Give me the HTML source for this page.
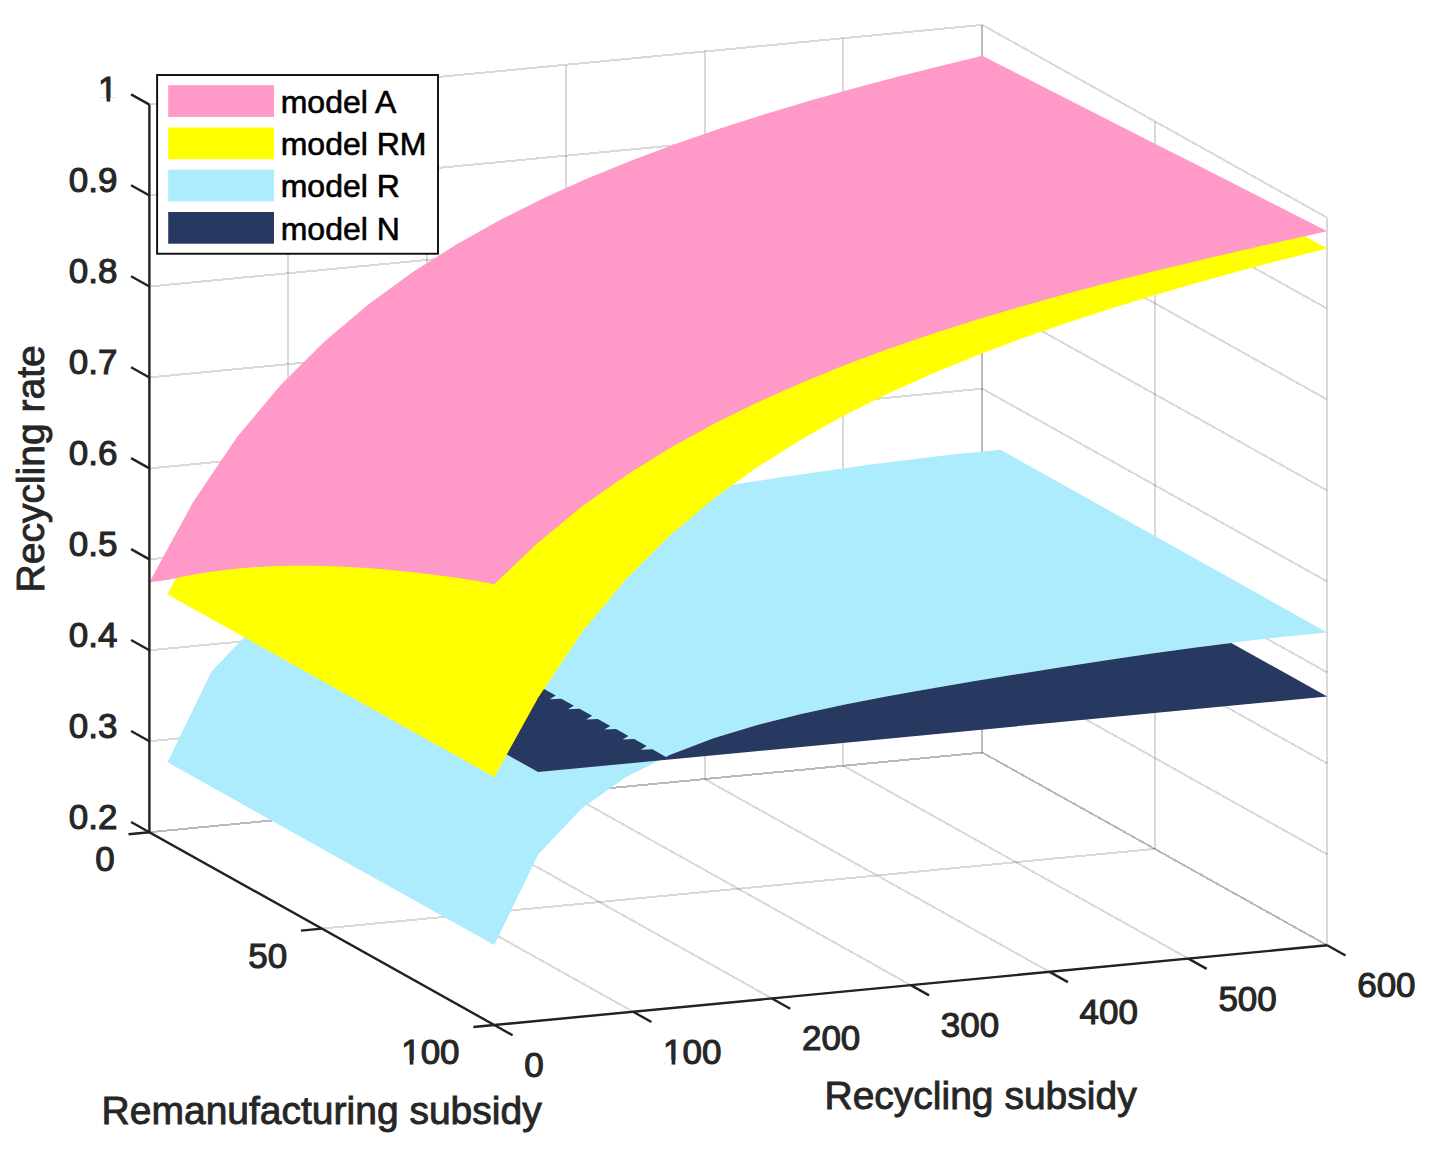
<!DOCTYPE html>
<html><head><meta charset="utf-8"><style>
html,body{margin:0;padding:0;background:#fff;}
svg{display:block;}
text{font-family:"Liberation Sans",sans-serif;}
</style></head><body>
<svg width="1437" height="1152" viewBox="0 0 1437 1152">
<rect width="1437" height="1152" fill="#fff"/>
<g stroke="#262626" stroke-opacity="0.175" stroke-width="2" shape-rendering="crispEdges" fill="none">
<line x1="149.40" y1="832.20" x2="149.40" y2="104.60"/>
<line x1="149.40" y1="832.20" x2="494.30" y2="1025.00"/>
<line x1="288.22" y1="818.92" x2="288.22" y2="91.32"/>
<line x1="288.22" y1="818.92" x2="633.12" y2="1011.72"/>
<line x1="427.03" y1="805.63" x2="427.03" y2="78.03"/>
<line x1="427.03" y1="805.63" x2="771.93" y2="998.43"/>
<line x1="565.85" y1="792.35" x2="565.85" y2="64.75"/>
<line x1="565.85" y1="792.35" x2="910.75" y2="985.15"/>
<line x1="704.67" y1="779.07" x2="704.67" y2="51.47"/>
<line x1="704.67" y1="779.07" x2="1049.57" y2="971.87"/>
<line x1="843.48" y1="765.78" x2="843.48" y2="38.18"/>
<line x1="843.48" y1="765.78" x2="1188.38" y2="958.58"/>
<line x1="982.30" y1="752.50" x2="982.30" y2="24.90"/>
<line x1="982.30" y1="752.50" x2="1327.20" y2="945.30"/>
<line x1="149.40" y1="832.20" x2="982.30" y2="752.50"/>
<line x1="982.30" y1="752.50" x2="1327.20" y2="945.30"/>
<line x1="149.40" y1="741.25" x2="982.30" y2="661.55"/>
<line x1="982.30" y1="661.55" x2="1327.20" y2="854.35"/>
<line x1="149.40" y1="650.30" x2="982.30" y2="570.60"/>
<line x1="982.30" y1="570.60" x2="1327.20" y2="763.40"/>
<line x1="149.40" y1="559.35" x2="982.30" y2="479.65"/>
<line x1="982.30" y1="479.65" x2="1327.20" y2="672.45"/>
<line x1="149.40" y1="468.40" x2="982.30" y2="388.70"/>
<line x1="982.30" y1="388.70" x2="1327.20" y2="581.50"/>
<line x1="149.40" y1="377.45" x2="982.30" y2="297.75"/>
<line x1="982.30" y1="297.75" x2="1327.20" y2="490.55"/>
<line x1="149.40" y1="286.50" x2="982.30" y2="206.80"/>
<line x1="982.30" y1="206.80" x2="1327.20" y2="399.60"/>
<line x1="149.40" y1="195.55" x2="982.30" y2="115.85"/>
<line x1="982.30" y1="115.85" x2="1327.20" y2="308.65"/>
<line x1="149.40" y1="104.60" x2="982.30" y2="24.90"/>
<line x1="982.30" y1="24.90" x2="1327.20" y2="217.70"/>
<line x1="982.30" y1="752.50" x2="982.30" y2="24.90"/>
<line x1="149.40" y1="832.20" x2="982.30" y2="752.50"/>
<line x1="1154.75" y1="848.90" x2="1154.75" y2="121.30"/>
<line x1="321.85" y1="928.60" x2="1154.75" y2="848.90"/>
<line x1="1327.20" y1="945.30" x2="1327.20" y2="217.70"/>
<line x1="494.30" y1="1025.00" x2="1327.20" y2="945.30"/>
</g>
<polygon fill="#ACECFD" points="167.55,762.32 211.39,671.82 255.23,625.58 299.06,594.65 342.90,572.42 386.74,555.62 430.57,542.34 474.41,531.36 518.25,521.90 562.08,513.42 605.92,505.57 649.76,498.13 693.59,490.98 737.43,484.05 781.27,477.35 825.11,470.92 868.94,464.82 912.78,459.18 956.62,454.10 1000.45,449.72 1327.20,632.38 1283.36,636.75 1239.53,641.83 1195.69,647.48 1151.85,653.57 1108.02,660.00 1064.18,666.70 1020.34,673.63 976.51,680.78 932.67,688.22 888.83,696.07 844.99,704.55 801.16,714.02 757.32,724.99 713.48,738.27 669.65,755.07 625.81,777.30 581.97,808.23 538.14,854.47 494.30,944.97"/>
<polygon fill="#283961" points="538.14,772.06 1327.20,696.55 1231.22,642.90 1195.69,647.48 1151.85,653.57 1108.02,660.00 1064.18,666.70 1020.34,673.63 976.51,680.78 932.67,688.22 888.83,696.07 844.99,704.55 801.16,714.02 757.32,724.99 713.48,738.27 669.65,755.07 666.00,756.92 652.40,749.20 640.70,749.70 646.70,746.10 634.20,739.10 622.50,739.60 628.50,736.00 616.00,729.00 604.30,729.50 610.30,725.90 597.80,718.90 586.10,719.40 592.10,715.80 579.60,708.80 567.90,709.30 573.90,705.70 561.40,698.70 549.70,699.20 555.70,695.60 543.20,688.60 530.00,681.00 490.00,745.00 503.65,752.78"/>
<polygon fill="#FFFF00" points="167.55,594.42 494.30,777.07 538.14,697.71 581.97,632.03 625.81,579.32 669.65,535.70 713.48,498.82 757.32,467.11 801.16,439.46 844.99,415.04 888.83,393.22 932.67,373.52 976.51,355.56 1020.34,339.03 1064.18,323.70 1108.02,309.38 1151.85,295.91 1195.69,283.18 1239.53,271.09 1283.36,259.57 1327.20,248.58 1306.51,237.01 1292.71,229.30 1283.36,236.96 1239.53,246.91 1195.69,257.15 1151.85,267.76 1108.02,278.82 1064.18,290.43 1020.34,302.70 976.51,315.75 932.67,329.72 888.83,344.77 844.99,361.09 801.16,378.89 757.32,398.45 713.48,420.08 669.65,444.20 625.81,471.38 581.97,502.41 538.14,538.54 494.30,580.26 494.30,579.57 476.15,576.65 457.99,573.94 439.84,571.45 421.69,569.21 403.54,567.22 385.38,565.50 367.23,564.07 349.08,562.96 330.93,562.18 312.77,561.75 294.62,561.72 276.47,562.11 258.32,562.95 240.16,564.31 222.01,566.23 203.86,568.77 185.71,572.02 175.80,576.00 175.80,578.20"/>
<polygon fill="#FF99C8" points="149.40,582.34 193.24,501.85 237.07,437.00 280.91,384.68 324.75,341.16 368.58,304.21 412.42,272.35 456.26,244.53 500.09,219.96 543.93,198.04 587.77,178.31 631.61,160.39 675.44,143.98 719.28,128.84 763.12,114.77 806.95,101.62 850.79,89.24 894.63,77.54 938.46,66.42 982.30,55.83 1000.45,65.06 1018.61,74.29 1036.76,83.52 1054.91,92.75 1073.06,101.98 1091.22,111.22 1109.37,120.45 1127.52,129.68 1145.67,138.91 1163.83,148.14 1181.98,157.37 1200.13,166.60 1218.28,175.83 1236.44,185.07 1254.59,194.30 1272.74,203.53 1290.89,212.76 1309.05,221.99 1327.20,231.22 1283.36,240.96 1239.53,250.91 1195.69,261.15 1151.85,271.76 1108.02,282.82 1064.18,294.43 1020.34,306.70 976.51,319.75 932.67,333.72 888.83,348.77 844.99,365.09 801.16,382.89 757.32,402.45 713.48,424.08 669.65,448.20 625.81,475.38 581.97,506.41 538.14,542.54 494.30,584.26 476.15,580.65 457.99,577.94 439.84,575.45 421.69,573.21 403.54,571.22 385.38,569.50 367.23,568.07 349.08,566.96 330.93,566.18 312.77,565.75 294.62,565.72 276.47,566.11 258.32,566.95 240.16,568.31 222.01,570.23 203.86,572.77 185.71,576.02 167.55,580.03"/>
<g stroke="#222" stroke-width="2.4" fill="none" stroke-linecap="butt">
<polyline points="149.40,104.60 149.40,832.20 494.30,1025.00 1327.20,945.30" stroke-linejoin="miter"/>
<line x1="149.40" y1="832.20" x2="131.07" y2="821.95"/>
<line x1="149.40" y1="741.25" x2="131.07" y2="731.00"/>
<line x1="149.40" y1="650.30" x2="131.07" y2="640.05"/>
<line x1="149.40" y1="559.35" x2="131.07" y2="549.10"/>
<line x1="149.40" y1="468.40" x2="131.07" y2="458.15"/>
<line x1="149.40" y1="377.45" x2="131.07" y2="367.20"/>
<line x1="149.40" y1="286.50" x2="131.07" y2="276.25"/>
<line x1="149.40" y1="195.55" x2="131.07" y2="185.30"/>
<line x1="149.40" y1="104.60" x2="131.07" y2="94.35"/>
<line x1="149.40" y1="832.20" x2="128.50" y2="834.20"/>
<line x1="321.85" y1="928.60" x2="300.95" y2="930.60"/>
<line x1="494.30" y1="1025.00" x2="473.40" y2="1027.00"/>
<line x1="494.30" y1="1025.00" x2="512.63" y2="1035.25"/>
<line x1="633.12" y1="1011.72" x2="651.45" y2="1021.96"/>
<line x1="771.93" y1="998.43" x2="790.26" y2="1008.68"/>
<line x1="910.75" y1="985.15" x2="929.08" y2="995.40"/>
<line x1="1049.57" y1="971.87" x2="1067.90" y2="982.11"/>
<line x1="1188.38" y1="958.58" x2="1206.71" y2="968.83"/>
<line x1="1327.20" y1="945.30" x2="1345.53" y2="955.55"/>
</g>
<g font-size="35" fill="#262626" stroke="#262626" stroke-width="1.1">
<text x="117.5" y="829.00" text-anchor="end">0.2</text>
<text x="117.5" y="738.05" text-anchor="end">0.3</text>
<text x="117.5" y="647.10" text-anchor="end">0.4</text>
<text x="117.5" y="556.15" text-anchor="end">0.5</text>
<text x="117.5" y="465.20" text-anchor="end">0.6</text>
<text x="117.5" y="374.25" text-anchor="end">0.7</text>
<text x="117.5" y="283.30" text-anchor="end">0.8</text>
<text x="117.5" y="192.35" text-anchor="end">0.9</text>
<text x="117.5" y="101.40" text-anchor="end">1</text>
<text x="114.70" y="871.20" text-anchor="end">0</text>
<text x="287.15" y="967.60" text-anchor="end">50</text>
<text x="459.60" y="1064.00" text-anchor="end">100</text>
<text x="524.30" y="1077.00">0</text>
<text x="663.12" y="1063.72">100</text>
<text x="801.93" y="1050.43">200</text>
<text x="940.75" y="1037.15">300</text>
<text x="1079.57" y="1023.87">400</text>
<text x="1218.38" y="1010.58">500</text>
<text x="1357.20" y="997.30">600</text>
</g>
<g font-size="39" fill="#262626" stroke="#262626" stroke-width="0.9">
<text x="824.5" y="1108.6">Recycling subsidy</text>
<text x="101.6" y="1124.2">Remanufacturing subsidy</text>
<text transform="translate(44.0,592.4) rotate(-90)">Recycling rate</text>
</g>
<rect x="157.1" y="75.0" width="280.9" height="178.75" fill="#fff" stroke="#111" stroke-width="1.95"/>
<rect x="168.2" y="85.20" width="105.8" height="31.7" fill="#FF99C8"/>
<text x="280.7" y="112.85" font-size="32" fill="#000" stroke="#000" stroke-width="0.6">model A</text>
<rect x="168.2" y="127.47" width="105.8" height="31.7" fill="#FFFF00"/>
<text x="280.7" y="155.17" font-size="32" fill="#000" stroke="#000" stroke-width="0.6">model RM</text>
<rect x="168.2" y="169.74" width="105.8" height="31.7" fill="#ACECFD"/>
<text x="280.7" y="197.49" font-size="32" fill="#000" stroke="#000" stroke-width="0.6">model R</text>
<rect x="168.2" y="212.01" width="105.8" height="31.7" fill="#283961"/>
<text x="280.7" y="239.81" font-size="32" fill="#000" stroke="#000" stroke-width="0.6">model N</text>
<g fill="#fff">
<rect x="99.80" y="97.49" width="6.74" height="5.21"/>
<rect x="110.23" y="97.49" width="6.76" height="5.21"/>
<rect x="402.97" y="1060.09" width="6.74" height="5.21"/>
<rect x="413.40" y="1060.09" width="6.76" height="5.21"/>
<rect x="664.88" y="1059.80" width="6.74" height="5.21"/>
<rect x="675.31" y="1059.80" width="6.76" height="5.21"/>
</g>
</svg>
</body></html>
